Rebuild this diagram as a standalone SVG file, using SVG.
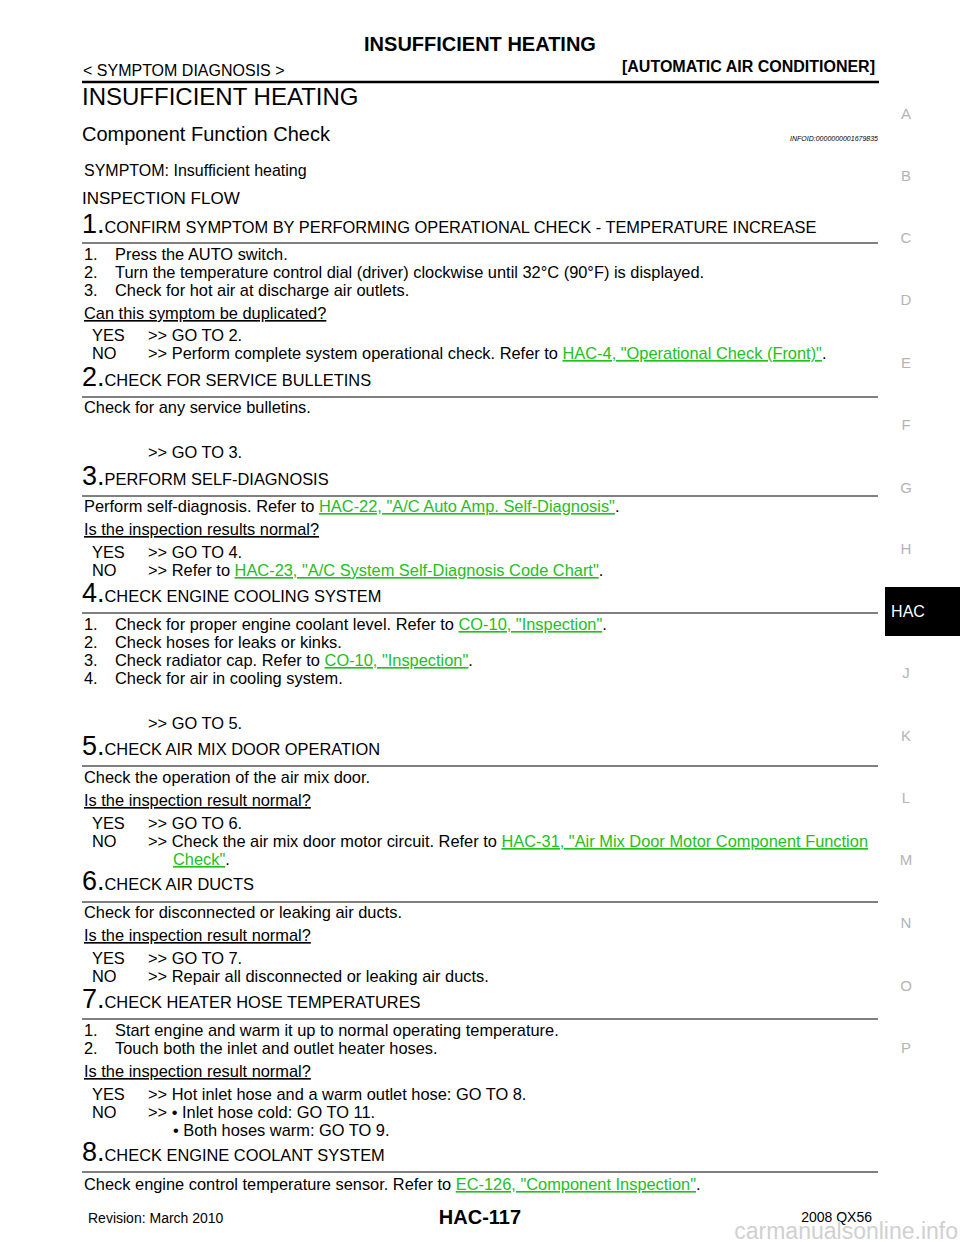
<svg xmlns="http://www.w3.org/2000/svg" width="960" height="1242" viewBox="0 0 960 1242" font-size="16.4">
<style>
text{font-family:"Liberation Sans",Arial,sans-serif;fill:#000}
.l{fill:#22c022;text-decoration:underline}
.u{text-decoration:underline}
.n{font-size:27px}
.m{fill:#b4b4b4;font-size:15px}
.r{stroke:#000;stroke-width:1}
</style>
<rect width="960" height="1242" fill="#fff"/>
<text x="480" y="51" text-anchor="middle" font-weight="bold" font-size="20">INSUFFICIENT HEATING</text>
<text x="83" y="76" font-size="16">&lt; SYMPTOM DIAGNOSIS &gt;</text>
<text x="875" y="72" text-anchor="end" font-weight="bold" font-size="16">[AUTOMATIC AIR CONDITIONER]</text>
<line x1="82" y1="82" x2="879" y2="82" stroke="#000" stroke-width="2.5"/>
<text x="82" y="105" font-size="24">INSUFFICIENT HEATING</text>
<text x="82" y="141" font-size="20">Component Function Check</text>
<text x="878" y="141" text-anchor="end" font-size="7" font-style="italic">INFOID:0000000001679835</text>
<text x="84" y="176" font-size="16">SYMPTOM: Insufficient heating</text>
<text x="82" y="204" font-size="17">INSPECTION FLOW</text>

<g id="step1">
<text x="82" y="233"><tspan class="n">1.</tspan>CONFIRM SYMPTOM BY PERFORMING OPERATIONAL CHECK - TEMPERATURE INCREASE</text>
<line class="r" x1="82" y1="243" x2="878" y2="243"/>
<text x="84" y="260">1.</text><text x="115" y="260">Press the AUTO switch.</text>
<text x="84" y="278">2.</text><text x="115" y="278">Turn the temperature control dial (driver) clockwise until 32°C (90°F) is displayed.</text>
<text x="84" y="296">3.</text><text x="115" y="296">Check for hot air at discharge air outlets.</text>
<text x="84" y="319" class="u">Can this symptom be duplicated?</text>
<text x="92" y="341">YES</text><text x="148" y="341">&gt;&gt; GO TO 2.</text>
<text x="92" y="359">NO</text><text x="148" y="359">&gt;&gt; Perform complete system operational check. Refer to <tspan class="l">HAC-4, "Operational Check (Front)"</tspan>.</text>
</g>
<g id="step2">
<text x="82" y="386"><tspan class="n">2.</tspan>CHECK FOR SERVICE BULLETINS</text>
<line class="r" x1="82" y1="397" x2="878" y2="397"/>
<text x="84" y="413">Check for any service bulletins.</text>
<text x="148" y="458">&gt;&gt; GO TO 3.</text>
</g>
<g id="step3">
<text x="82" y="485"><tspan class="n">3.</tspan>PERFORM SELF-DIAGNOSIS</text>
<line class="r" x1="82" y1="496" x2="878" y2="496"/>
<text x="84" y="512">Perform self-diagnosis. Refer to <tspan class="l">HAC-22, "A/C Auto Amp. Self-Diagnosis"</tspan>.</text>
<text x="84" y="535" class="u">Is the inspection results normal?</text>
<text x="92" y="558">YES</text><text x="148" y="558">&gt;&gt; GO TO 4.</text>
<text x="92" y="576">NO</text><text x="148" y="576">&gt;&gt; Refer to <tspan class="l">HAC-23, "A/C System Self-Diagnosis Code Chart"</tspan>.</text>
</g>
<g id="step4">
<text x="82" y="602"><tspan class="n">4.</tspan>CHECK ENGINE COOLING SYSTEM</text>
<line class="r" x1="82" y1="613" x2="878" y2="613"/>
<text x="84" y="630">1.</text><text x="115" y="630">Check for proper engine coolant level. Refer to <tspan class="l">CO-10, "Inspection"</tspan>.</text>
<text x="84" y="648">2.</text><text x="115" y="648">Check hoses for leaks or kinks.</text>
<text x="84" y="666">3.</text><text x="115" y="666">Check radiator cap. Refer to <tspan class="l">CO-10, "Inspection"</tspan>.</text>
<text x="84" y="684">4.</text><text x="115" y="684">Check for air in cooling system.</text>
<text x="148" y="729">&gt;&gt; GO TO 5.</text>
</g>
<g id="step5">
<text x="82" y="755"><tspan class="n">5.</tspan>CHECK AIR MIX DOOR OPERATION</text>
<line class="r" x1="82" y1="766" x2="878" y2="766"/>
<text x="84" y="783">Check the operation of the air mix door.</text>
<text x="84" y="806" class="u">Is the inspection result normal?</text>
<text x="92" y="829">YES</text><text x="148" y="829">&gt;&gt; GO TO 6.</text>
<text x="92" y="847">NO</text><text x="148" y="847">&gt;&gt; Check the air mix door motor circuit. Refer to <tspan class="l">HAC-31, "Air Mix Door Motor Component Function</tspan></text>
<text x="173" y="865"><tspan class="l">Check"</tspan>.</text>
</g>
<g id="step6">
<text x="82" y="890"><tspan class="n">6.</tspan>CHECK AIR DUCTS</text>
<line class="r" x1="82" y1="902" x2="878" y2="902"/>
<text x="84" y="918">Check for disconnected or leaking air ducts.</text>
<text x="84" y="941" class="u">Is the inspection result normal?</text>
<text x="92" y="964">YES</text><text x="148" y="964">&gt;&gt; GO TO 7.</text>
<text x="92" y="982">NO</text><text x="148" y="982">&gt;&gt; Repair all disconnected or leaking air ducts.</text>
</g>
<g id="step7">
<text x="82" y="1008"><tspan class="n">7.</tspan>CHECK HEATER HOSE TEMPERATURES</text>
<line class="r" x1="82" y1="1019" x2="878" y2="1019"/>
<text x="84" y="1036">1.</text><text x="115" y="1036">Start engine and warm it up to normal operating temperature.</text>
<text x="84" y="1054">2.</text><text x="115" y="1054">Touch both the inlet and outlet heater hoses.</text>
<text x="84" y="1077" class="u">Is the inspection result normal?</text>
<text x="92" y="1100">YES</text><text x="148" y="1100">&gt;&gt; Hot inlet hose and a warm outlet hose: GO TO 8.</text>
<text x="92" y="1118">NO</text><text x="148" y="1118">&gt;&gt; • Inlet hose cold: GO TO 11.</text>
<text x="173" y="1136">• Both hoses warm: GO TO 9.</text>
</g>
<g id="step8">
<text x="82" y="1161"><tspan class="n">8.</tspan>CHECK ENGINE COOLANT SYSTEM</text>
<line class="r" x1="82" y1="1172" x2="878" y2="1172"/>
<text x="84" y="1190">Check engine control temperature sensor. Refer to <tspan class="l">EC-126, "Component Inspection"</tspan>.</text>
</g>

<g id="margin">
<text class="m" x="906" y="119" text-anchor="middle">A</text>
<text class="m" x="906" y="181" text-anchor="middle">B</text>
<text class="m" x="906" y="243" text-anchor="middle">C</text>
<text class="m" x="906" y="305" text-anchor="middle">D</text>
<text class="m" x="906" y="368" text-anchor="middle">E</text>
<text class="m" x="906" y="430" text-anchor="middle">F</text>
<text class="m" x="906" y="493" text-anchor="middle">G</text>
<text class="m" x="906" y="554" text-anchor="middle">H</text>
<rect x="885" y="587" width="75" height="49" fill="#000"/>
<text x="908" y="617" text-anchor="middle" font-size="16" style="fill:#fff">HAC</text>
<text class="m" x="906" y="678" text-anchor="middle">J</text>
<text class="m" x="906" y="741" text-anchor="middle">K</text>
<text class="m" x="906" y="803" text-anchor="middle">L</text>
<text class="m" x="906" y="865" text-anchor="middle">M</text>
<text class="m" x="906" y="928" text-anchor="middle">N</text>
<text class="m" x="906" y="991" text-anchor="middle">O</text>
<text class="m" x="906" y="1053" text-anchor="middle">P</text>
</g>
<g id="footer">
<text x="88" y="1223" font-size="14">Revision: March 2010</text>
<text x="480" y="1224" text-anchor="middle" font-weight="bold" font-size="20">HAC-117</text>
<text x="872" y="1222" text-anchor="end" font-size="14">2008 QX56</text>
<text x="958" y="1239" text-anchor="end" font-size="23" style="fill:#d0d0d0">carmanualsonline.info</text>
</g>
</svg>
